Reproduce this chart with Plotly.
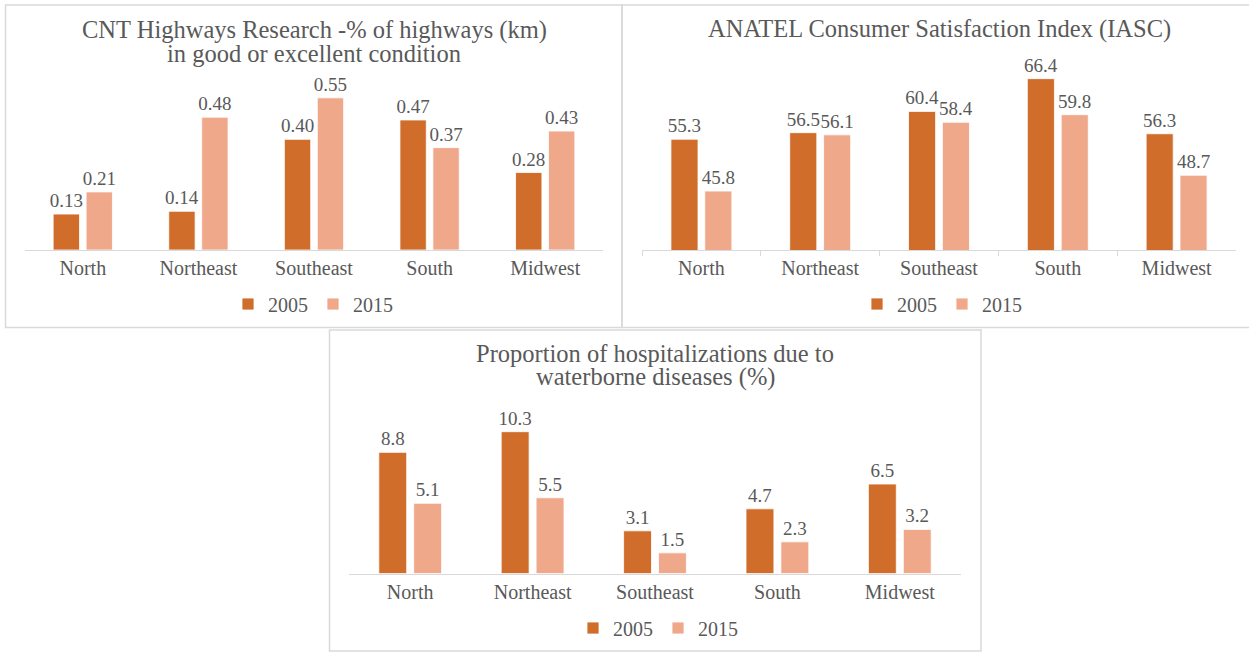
import plotly.graph_objects as go

# ---------------- data ----------------
regions = ["North", "Northeast", "Southeast", "South", "Midwest"]
years = ["2005", "2015"]

highways_2005 = [0.13, 0.14, 0.40, 0.47, 0.28]
highways_2015 = [0.21, 0.48, 0.55, 0.37, 0.43]

anatel_2005 = [55.3, 56.5, 60.4, 66.4, 56.3]
anatel_2015 = [45.8, 56.1, 58.4, 59.8, 48.7]

hosp_2005 = [8.8, 10.3, 3.1, 4.7, 6.5]
hosp_2015 = [5.1, 5.5, 1.5, 2.3, 3.2]

titles = [
    ["CNT Highways Research -% of highways (km)", "in good or excellent condition"],
    ["ANATEL Consumer Satisfaction Index (IASC)"],
    ["Proportion of hospitalizations due to", "waterborne diseases (%)"],
]

# ---------------- styling ----------------
W, H = 1249, 652
FONT = "Liberation Serif"
TXT = "#595959"
C05 = "#D06D2B"
C15 = "#F0A88A"
GRID = "#D9D9D9"


def px_x(x):
    return x / W


def px_y(y):
    return 1 - y / H


fig = go.Figure()

panels = [
    dict(d05=highways_2005, d15=highways_2015, fmt="%{y:.2f}", rng=[0, 0.6],
         xdom=[25, 603], ydom=[250, 84], ticks=""),
    dict(d05=anatel_2005, d15=anatel_2015, fmt="%{y:.1f}", rng=[35, 70],
         xdom=[642, 1236], ydom=[250, 59], ticks="outside"),
    dict(d05=hosp_2005, d15=hosp_2015, fmt="%{y:.1f}", rng=[0, 12],
         xdom=[349, 961], ydom=[573.5, 408.3], ticks=""),
]

legend_pos = [(313, 304), (942, 304), (658, 628)]

for i, p in enumerate(panels):
    n = "" if i == 0 else str(i + 1)
    lg = "legend" if i == 0 else "legend" + str(i + 1)
    for yr, vals, col in ((years[0], p["d05"], C05), (years[1], p["d15"], C15)):
        fig.add_trace(go.Bar(
            x=regions, y=vals, name=yr,
            marker=dict(color=col, line=dict(color="white", width=0.8)),
            texttemplate=p["fmt"], textposition="outside",
            textfont=dict(family=FONT, size=19, color=TXT),
            constraintext="none", cliponaxis=False,
            xaxis="x" + n, yaxis="y" + n, legend=lg,
            hoverinfo="skip",
        ))
    xa = dict(
        domain=[px_x(p["xdom"][0]), px_x(p["xdom"][1])],
        anchor="y" + n,
        showline=True, linecolor=GRID, linewidth=1,
        showgrid=False, zeroline=False,
        tickfont=dict(family=FONT, size=20, color=TXT),
        ticks=p["ticks"], ticklen=5, tickcolor=GRID, tickwidth=1,
        fixedrange=True,
    )
    if p["ticks"]:
        xa["tickson"] = "boundaries"
    ya = dict(
        domain=[px_y(p["ydom"][0]), px_y(p["ydom"][1])],
        anchor="x" + n, range=p["rng"], visible=False, fixedrange=True,
    )
    fig.update_layout(**{"xaxis" + n: xa, "yaxis" + n: ya})
    lx, ly = legend_pos[i]
    fig.update_layout(**{lg: dict(
        orientation="h", x=px_x(lx), y=px_y(ly), xanchor="center", yanchor="middle",
        font=dict(family=FONT, size=20, color=TXT), bgcolor="rgba(0,0,0,0)",
        itemclick=False, itemdoubleclick=False, tracegroupgap=0,
    )})

# titles (one annotation per line)
title_lines = [
    [(314, 30), (314, 54)],
    [(939, 29)],
    [(655, 353), (655, 377)],
]
anns = []
for lines, pos in zip(titles, title_lines):
    for txt, (x, y) in zip(lines, pos):
        anns.append(dict(
            text=txt, x=px_x(x), y=px_y(y), xref="paper", yref="paper",
            xanchor="center", yanchor="middle", showarrow=False,
            font=dict(family=FONT, size=24.5, color=TXT),
        ))

# panel borders
boxes = [(5.5, 5, 622, 327.5), (622, 5, 1252, 327.5), (329.5, 330, 981, 651)]
shapes = []
for x0, y0, x1, y1 in boxes:
    shapes.append(dict(
        type="rect", xref="paper", yref="paper",
        x0=px_x(x0), x1=px_x(x1), y0=px_y(y0), y1=px_y(y1),
        line=dict(color=GRID, width=1.5), fillcolor="rgba(0,0,0,0)", layer="below",
    ))

fig.update_layout(
    width=W, height=H, autosize=False,
    margin=dict(l=0, r=0, t=0, b=0, pad=0),
    paper_bgcolor="white", plot_bgcolor="rgba(0,0,0,0)",
    barmode="group", bargap=0.43, bargroupgap=0.2,
    annotations=anns, shapes=shapes,
    font=dict(family=FONT, color=TXT),
)

fig.write_html("out.html", config={"displayModeBar": False},
               post_script="document.body.style.margin='0';document.body.style.overflow='hidden';")
